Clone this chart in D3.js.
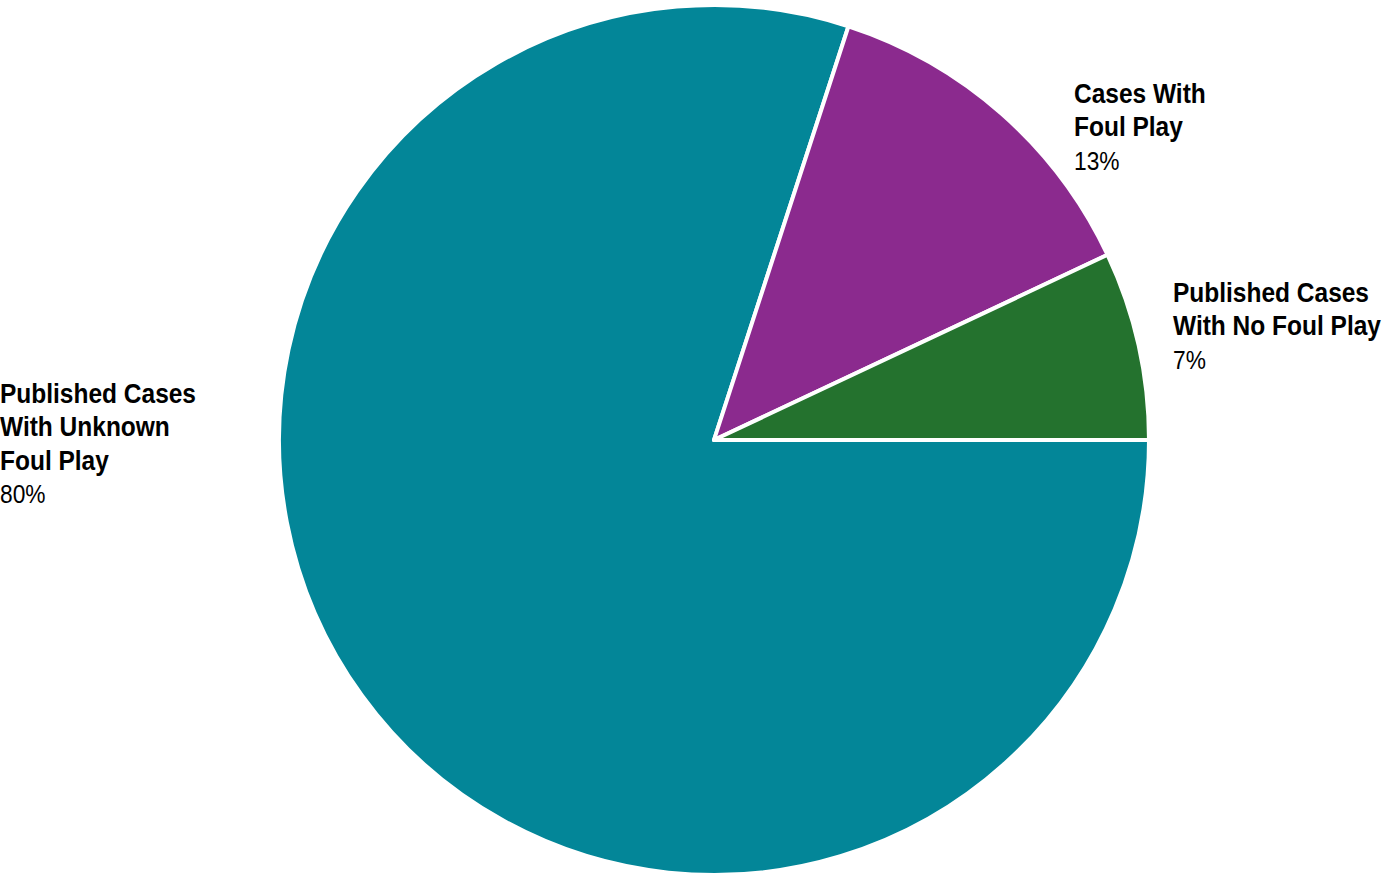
<!DOCTYPE html>
<HTML>
<HEAD>
<TITLE>Published Cases by Foul Play</TITLE>
<STYLE>
body { margin: 0; background: #fff; }
svg { display: block; width: 1385px; height: 882px; }
.lbl { font-family: "Liberation Sans", Arial, sans-serif; fill: #000; }
.lbl .head { font-weight: bold; font-size: 28px; }
.lbl .pct { font-weight: normal; font-size: 26px; }
</STYLE>
<SCRIPT type="text/javascript" src="https://d3js.org/d3.v7.min.js"></SCRIPT>
</HEAD>
<BODY>
<SVG id="pie"></SVG>
<SCRIPT type="text/javascript">

// data
const categories = ["Published Cases With Unknown Foul Play", "Cases With Foul Play", "Published Cases With No Foul Play"];
const values = [80, 13, 7];
const labelLines = [
    ["Published Cases", "With Unknown", "Foul Play"],
    ["Cases With", "Foul Play"],
    ["Published Cases", "With No Foul Play"]
];
const colors = ["#038698", "#8b2a8e", "#24722e"];

// label layout (x, first baseline)
const labelPos = [[0, 403], [1074, 103], [1173, 302]];
const LINE_H = 33.5;
const NARROW = 0.875; // squeeze to mimic a condensed face

const chart = d3.select("#pie");
const CX = 714, CY = 440, R = 435;

const pieData = d3.pie()
    .sort(null)
    .startAngle(Math.PI / 2)
    .endAngle(Math.PI / 2 + 2 * Math.PI)(values);

const genArc = d3.arc().innerRadius(0).outerRadius(R);

const g = chart.append("g").attr("transform", `translate(${CX}, ${CY})`);

g.selectAll("path")
    .data(pieData)
    .enter()
    .append("path")
    .attr("d", genArc)
    .style("fill", (d, i) => colors[i])
    .style("stroke", "#fff")
    .style("stroke-width", 4)
    .style("stroke-linejoin", "round");

const labels = chart.selectAll("g.lbl")
    .data(categories)
    .enter()
    .append("g")
    .attr("class", "lbl")
    .attr("transform", (d, i) => `translate(${labelPos[i][0]}, ${labelPos[i][1]}) scale(${NARROW}, 1)`)
    .append("text");

labels.each(function(d, i) {
    const t = d3.select(this);
    labelLines[i].forEach((line, j) => {
        t.append("tspan")
            .attr("class", "head")
            .attr("x", 0)
            .attr("dy", j === 0 ? 0 : LINE_H)
            .text(line);
    });
    t.append("tspan")
        .attr("class", "pct")
        .attr("x", 0)
        .attr("dy", LINE_H)
        .text(values[i] + "%");
});

</SCRIPT>
</BODY>
</HTML>
